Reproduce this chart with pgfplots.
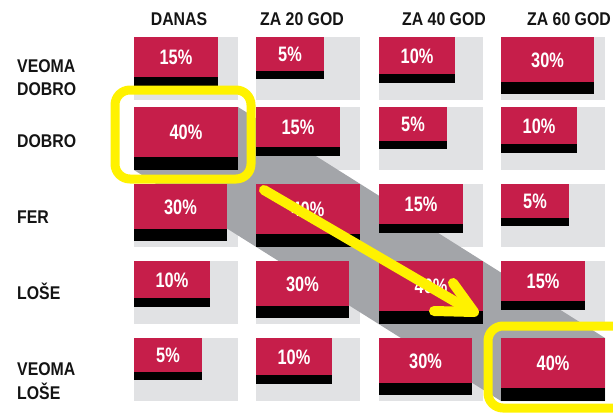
\documentclass[border=0pt]{standalone}
\usepackage{pgfplots}
\pgfplotsset{compat=1.18}
\usepackage{fontspec}
\setmainfont{Liberation Sans}
\newfontfamily\condfont[FakeStretch=0.86]{Liberation Sans}
\newfontfamily\pctfam[FakeStretch=0.78]{Liberation Sans}
\definecolor{crim}{RGB}{198,30,74}
\definecolor{bggrey}{RGB}{225,226,228}
\definecolor{shgrey}{RGB}{163,165,169}
\definecolor{hl}{RGB}{255,242,0}
\tikzset{
  lab/.style={font=\condfont\bfseries\fontsize{18.5}{20}\selectfont, text={black!92}, inner sep=0pt},
  pct/.style={font=\pctfam\bfseries\fontsize{21}{22}\selectfont, text=white, inner sep=0pt},
}
% box sizes (px) used for each percentage: width, height, black bar
\makeatletter
\@namedef{w5}{68}\@namedef{h5}{42}\@namedef{b5}{8}
\@namedef{w10}{76}\@namedef{h10}{46}\@namedef{b10}{9}
\@namedef{w15}{84}\@namedef{h15}{49}\@namedef{b15}{9}
\@namedef{w30}{93}\@namedef{h30}{57}\@namedef{b30}{12}
\@namedef{w40}{104}\@namedef{h40}{63}\@namedef{b40}{13}
\makeatother
% cells: left x, top y, percentage
\def\celllist{%
 \do{134}{37}{15}\do{256}{37}{5}\do{379}{37}{10}\do{501}{37}{30}%
 \do{134}{107}{40}\do{256}{107}{15}\do{379}{107}{5}\do{501}{107}{10}%
 \do{134}{184}{30}\do{256}{184}{40}\do{379}{184}{15}\do{501}{184}{5}%
 \do{134}{261}{10}\do{256}{261}{30}\do{379}{261}{40}\do{501}{261}{15}%
 \do{134}{338}{5}\do{256}{338}{10}\do{379}{338}{30}\do{501}{338}{40}%
}
\newcommand\greycell[3]{%
  \pgfmathsetmacro\xb{#1+104}\pgfmathsetmacro\yb{#2+63}%
  \edef\temp{\noexpand\addplot[fill=bggrey,draw=none] coordinates {(#1,#2) (\xb,#2) (\xb,\yb) (#1,\yb)} --cycle;}\temp
}
\newcommand\redcell[3]{%
  \pgfmathsetmacro\xb{#1+\csname w#3\endcsname}%
  \pgfmathsetmacro\yb{#2+\csname h#3\endcsname}%
  \pgfmathsetmacro\ym{\yb-\csname b#3\endcsname}%
  \pgfmathsetmacro\xc{(#1+\xb)/2}%
  \pgfmathsetmacro\yc{(#2+\ym)/2+0.5}%
  \edef\temp{%
    \noexpand\addplot[fill=crim,draw=none] coordinates {(#1,#2) (\xb,#2) (\xb,\ym) (#1,\ym)} --cycle;
    \noexpand\addplot[fill=black,draw=none] coordinates {(#1,\ym) (\xb,\ym) (\xb,\yb) (#1,\yb)} --cycle;
    \noexpand\node[pct] at (axis cs:\xc,\yc) {#3\noexpand\%};
  }\temp
}
\begin{document}
\begin{tikzpicture}
\useasboundingbox (0,0) rectangle (613bp,417bp);
\clip (0,0) rectangle (613bp,417bp);
\begin{axis}[
  at={(0,0)}, anchor=south west,
  width=613bp, height=417bp, scale only axis,
  xmin=0, xmax=613, ymin=0, ymax=417, y dir=reverse,
  hide axis, clip=true,
]
\let\do\greycell \celllist
% diagonal shadow
\addplot[fill=shgrey,draw=none] coordinates {(134,107) (238,107) (605,338) (605,401) (501,401) (134,170)} --cycle;
\let\do\redcell \celllist
% headers
\node[lab, anchor=base] at (axis cs:179,26) {DANAS};
\node[lab, anchor=base] at (axis cs:302,26) {ZA 20 GOD};
\node[lab, anchor=base] at (axis cs:444,26) {ZA 40 GOD};
\node[lab, anchor=base] at (axis cs:569,26) {ZA 60 GOD};
% row labels
\node[lab, anchor=base west] at (axis cs:17,72) {VEOMA};
\node[lab, anchor=base west] at (axis cs:17,95) {DOBRO};
\node[lab, anchor=base west] at (axis cs:17,147) {DOBRO};
\node[lab, anchor=base west] at (axis cs:17,223) {FER};
\node[lab, anchor=base west] at (axis cs:17,299) {LOŠE};
\node[lab, anchor=base west] at (axis cs:17,375) {VEOMA};
\node[lab, anchor=base west] at (axis cs:17,399) {LOŠE};
% highlights
\draw[hl, line width=9bp, rounded corners=15bp] (axis cs:115,90) rectangle (axis cs:251,179);
\draw[hl, line width=9bp, rounded corners=15bp] (axis cs:488,326) rectangle (axis cs:635,408);
\draw[hl, line width=10bp, line cap=round, line join=round] (axis cs:264,190) -- (axis cs:473,312);
\draw[hl, line width=10bp, line cap=round, line join=round] (axis cs:434,311) -- (axis cs:474,312) -- (axis cs:453,283);
\end{axis}
\end{tikzpicture}
\end{document}
